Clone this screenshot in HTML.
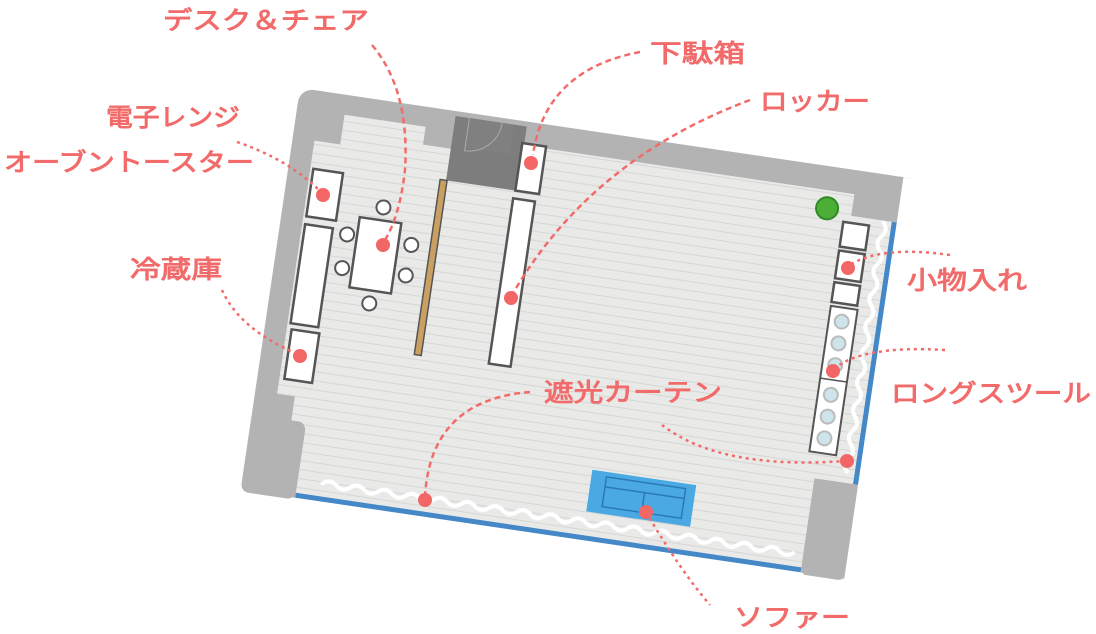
<!DOCTYPE html>
<html><head><meta charset="utf-8"><style>
html,body{margin:0;padding:0;background:#fff;}
svg{display:block;}
text{font-family:"Liberation Sans","Noto Sans CJK JP",sans-serif;fill:#f26b6b;stroke:#f26b6b;stroke-width:0.9;font-size:25px;}
</style></head><body>
<svg width="1096" height="634" viewBox="0 0 1096 634" xmlns="http://www.w3.org/2000/svg">
<defs>
<pattern id="fl" width="20" height="9" patternUnits="userSpaceOnUse">
<rect width="20" height="9" fill="#e9eae8"/>
<line x1="0" y1="8.5" x2="20" y2="8.5" stroke="#d5d7d5" stroke-width="1"/>
</pattern>
</defs>
<g transform="translate(300,88) rotate(8.4)">
  <rect x="0" y="0" width="617" height="408" rx="14" fill="#b3b3b3"/>
  <path d="M48,20 L130,20 L130,38 L160,38 L160,24 L564,24 L564,46 L605,46 L605,311 L566,311 L566,408 L55,408 L55,338 L40,338 L40,306 L22,306 L22,50 L48,50 Z" fill="url(#fl)"/>
  <rect x="564" y="46" width="53" height="265" fill="url(#fl)"/>
  <rect x="55" y="390" width="511" height="18" fill="url(#fl)"/>
  <rect x="605" y="0" width="14" height="46" fill="#b3b3b3"/>
  <rect x="605" y="46" width="7" height="265" fill="#4488c8"/>
  <rect x="55" y="401" width="511" height="7" fill="#4488c8"/>
  <rect x="610" y="0" width="20" height="420" fill="#fff"/>
  <rect x="0" y="406" width="640" height="20" fill="#fff"/>
  <rect x="566" y="311" width="44" height="97" rx="6" fill="#b3b3b3"/>
  <rect x="0" y="330" width="55" height="78" rx="8" fill="#b3b3b3"/>
  <rect x="158" y="5" width="72" height="65" fill="#7d7d7d"/>
  <rect x="172" y="5" width="45" height="30" fill="#808080"/>
  <path d="M172,5 L172,38 A33,33 0 0 0 205,5" fill="none" stroke="#aaa" stroke-width="1"/>
  <path d="M80,388 q7,-6 14,0 t14,0 t14,0 t14,0 t14,0 t14,0 t14,0 t14,0 t14,0 t14,0 t14,0 t14,0 t14,0 t14,0 t14,0 t14,0 t14,0 t14,0 t14,0 t14,0 t14,0 t14,0 t14,0 t14,0 t14,0 t14,0 t14,0 t14,0 t14,0 t14,0 t14,0 t14,0 t14,0 t14,0" fill="none" stroke="#fff" stroke-width="4" stroke-linecap="round"/>
  <path d="M597,48 q6,7 0,14 t0,14 t0,14 t0,14 t0,14 t0,14 t0,14 t0,14 t0,14 t0,14 t0,14 t0,14 t0,14 t0,14 t0,14 t0,14 t0,14 t0,14" fill="none" stroke="#fff" stroke-width="4" stroke-linecap="round"/>
  <g fill="#fff" stroke="#555" stroke-width="2.5">
    <rect x="25" y="78" width="30" height="48"/>
    <rect x="25" y="134" width="28" height="100"/>
    <rect x="27" y="240" width="28" height="50"/>
    <rect x="78" y="119" width="42" height="71"/>
    <circle cx="100" cy="106" r="7" stroke-width="2"/>
    <circle cx="100" cy="203" r="7" stroke-width="2"/>
    <circle cx="68" cy="138" r="7" stroke-width="2"/>
    <circle cx="68" cy="172" r="7" stroke-width="2"/>
    <circle cx="133" cy="139" r="7" stroke-width="2"/>
    <circle cx="132" cy="170" r="7" stroke-width="2"/>
    <rect x="228" y="22" width="24" height="48"/>
    <rect x="227" y="78" width="22" height="167"/>
    <rect x="557" y="53" width="26" height="25"/>
    <rect x="557" y="82" width="26" height="28"/>
    <rect x="557" y="114" width="26" height="20"/>
    <rect x="557" y="138" width="27" height="147" stroke-width="2"/>
    <line x1="557" y1="211" x2="584" y2="211" stroke-width="1.5"/>
  </g>
  <rect x="152" y="70" width="7" height="177" fill="#c9a062" stroke="#555" stroke-width="1.5"/>
  <g fill="#cde4ea" stroke="#bbb" stroke-width="2">
    <circle cx="570" cy="152" r="7"/><circle cx="570" cy="174" r="7"/><circle cx="570" cy="196" r="7"/>
    <circle cx="570" cy="226" r="7"/><circle cx="570" cy="248" r="7"/><circle cx="570" cy="270" r="7"/>
  </g>
  <circle cx="539" cy="42" r="11" fill="#4cae36" stroke="#2f8a26" stroke-width="2"/>
  <rect x="345" y="335" width="105" height="42" fill="#4aa9e2"/>
  <rect x="360" y="340" width="80" height="30" fill="none" stroke="#2a78b8" stroke-width="1.5"/>
  <line x1="360" y1="350" x2="440" y2="350" stroke="#2a78b8" stroke-width="1.5"/>
  <line x1="400" y1="350" x2="400" y2="370" stroke="#2a78b8" stroke-width="1.5"/>
</g>
<g fill="none" stroke="#f26b6b" stroke-width="2.5" stroke-dasharray="6,4">
  <path d="M372,45 Q410,90 405,170 Q400,215 385,240"/>
  <path d="M640,52 Q545,70 533,155"/>
  <path d="M750,100 Q590,160 512,295"/>
  <path d="M530,392 Q430,400 425,497"/>
</g>
<g fill="none" stroke="#f26b6b" stroke-width="2.5" stroke-dasharray="3,4">
  <path d="M237,142 Q290,160 322,193"/>
  <path d="M222,290 Q240,330 298,354"/>
  <path d="M950,255 Q880,245 848,266"/>
  <path d="M945,350 Q860,345 833,370"/>
  <path d="M662,425 Q720,470 845,461"/>
  <path d="M646,512 Q680,570 710,605"/>
</g>
<g fill="#f26666">
  <circle cx="383" cy="245" r="7"/><circle cx="531" cy="163" r="7"/><circle cx="511" cy="298" r="7"/>
  <circle cx="323" cy="195" r="7"/><circle cx="300" cy="356" r="7"/><circle cx="848" cy="268" r="7"/>
  <circle cx="833" cy="371" r="7"/><circle cx="425" cy="500" r="7"/><circle cx="847" cy="461" r="7"/>
  <circle cx="646" cy="512" r="7"/>
</g>
<text x="163" y="29" textLength="206" lengthAdjust="spacingAndGlyphs">デスク＆チェア</text>
<text x="650" y="62" textLength="95" lengthAdjust="spacingAndGlyphs">下駄箱</text>
<text x="760" y="110" textLength="110" lengthAdjust="spacingAndGlyphs">ロッカー</text>
<text x="106" y="126" textLength="134" lengthAdjust="spacingAndGlyphs">電子レンジ</text>
<text x="4" y="171" textLength="250" lengthAdjust="spacingAndGlyphs">オーブントースター</text>
<text x="130" y="278" textLength="92" lengthAdjust="spacingAndGlyphs">冷蔵庫</text>
<text x="907" y="289" textLength="120" lengthAdjust="spacingAndGlyphs">小物入れ</text>
<text x="891" y="402" textLength="200" lengthAdjust="spacingAndGlyphs">ロングスツール</text>
<text x="544" y="401" textLength="178" lengthAdjust="spacingAndGlyphs">遮光カーテン</text>
<text x="734" y="626" textLength="116" lengthAdjust="spacingAndGlyphs">ソファー</text>
</svg>
</body></html>
